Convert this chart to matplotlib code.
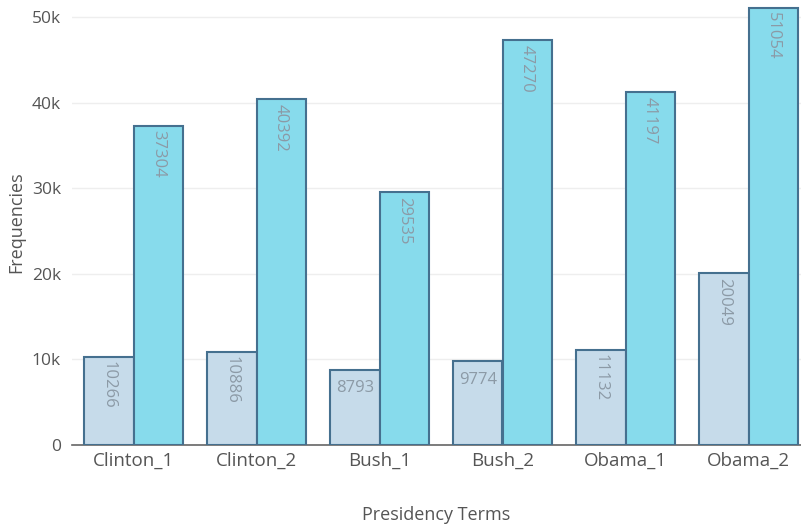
import numpy as np
import matplotlib.pyplot as plt
from matplotlib.ticker import FuncFormatter

terms = ['Clinton_1', 'Clinton_2', 'Bush_1', 'Bush_2', 'Obama_1', 'Obama_2']
series_a = [10266, 10886, 8793, 9774, 11132, 20049]
series_b = [37304, 40392, 29535, 47270, 41197, 51054]

plt.rcParams['font.family'] = ['Open Sans', 'DejaVu Sans']

fig = plt.figure(figsize=(8.01, 5.28), dpi=100)
ax = fig.add_axes([72/801, 83/528, 729/801, 445/528])

x = np.arange(len(terms))
w = 0.4
edge = '#45708f'
bars_a = ax.bar(x - w/2, series_a, w, color='#c6dbea', edgecolor=edge, linewidth=1.5, zorder=3)
bars_b = ax.bar(x + w/2, series_b, w, color='#87dbec', edgecolor=edge, linewidth=1.5, zorder=3)

# labels inside the bar end, rotated when the number is too wide
for bars, vals in [(bars_a, series_a), (bars_b, series_b)]:
	for b, v in zip(bars, vals):
		s = str(v)
		cx = b.get_x() + b.get_width()/2
		if len(s) <= 4:
			ax.text(cx, v - 1200, s, ha='center', va='top', fontsize=12, color='#8c9aa6', zorder=4)
		else:
			ax.text(cx, v - 500, s, ha='center', va='top', rotation=-90, fontsize=12, color='#8c9aa6', zorder=4)

ax.set_xlim(-0.5, -0.5 + 729/123)
ax.set_ylim(0, 52000)
ax.set_yticks([0, 10000, 20000, 30000, 40000, 50000])
ax.yaxis.set_major_formatter(FuncFormatter(lambda v, p: '0' if v == 0 else '%dk' % (v/1000)))
ax.set_xticks(x)
ax.set_xticklabels(terms)
ax.grid(axis='y', color='#eeeeee', linewidth=1, zorder=0)
for s in ['top', 'right', 'left']:
	ax.spines[s].set_visible(False)
ax.spines['bottom'].set_color('#666666')
ax.spines['bottom'].set_linewidth(1.2)
ax.tick_params(axis='y', length=0, pad=8, labelsize=12.5, labelcolor='#555555')
ax.tick_params(axis='x', length=0, pad=5, labelsize=13.5, labelcolor='#555555')
ax.set_xlabel('Presidency Terms', fontsize=13, color='#555555', labelpad=26)
ax.set_ylabel('Frequencies', fontsize=13, color='#555555', labelpad=5)

plt.savefig('out.png', dpi=100)
